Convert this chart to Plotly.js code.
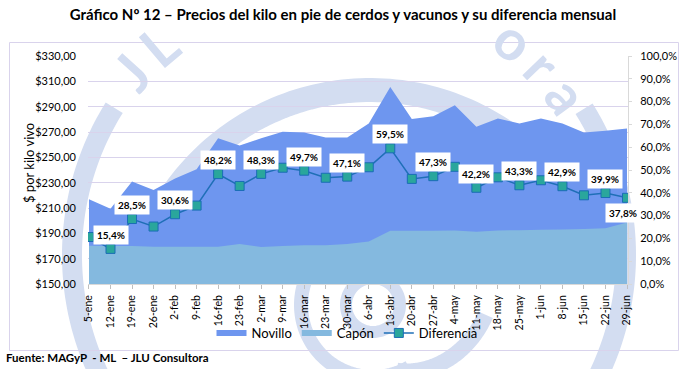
<!DOCTYPE html>
<html><head><meta charset="utf-8">
<script src="https://cdn.plot.ly/plotly-3.0.1.min.js"></script>
<style>html,body{margin:0;padding:0;background:#fff;}#chart{width:690px;height:369px;}</style>
</head><body><div id="chart"></div>
<script>
const weeks = ['5-ene','12-ene','19-ene','26-ene','2-feb','9-feb','16-feb','23-feb','2-mar','9-mar','16-mar','23-mar','30-mar','6-abr','13-abr','20-abr','27-abr','4-may','11-may','18-may','25-may','1-jun','8-jun','15-jun','22-jun','29-jun'];
const novillo = [217,209.5,231,224.3,233.2,240.5,265,259.4,265,270.2,269.7,265.7,265.7,276.8,305.6,280.2,282.5,291.2,274.1,280.7,276.8,280.7,276.8,269.7,271,272.8];
const capon = [180.2,180,180,179.5,179.5,179.5,179.5,181.5,179.3,180,180.5,180.5,181.5,183.5,192,192,192,192.3,191.3,192.3,192.5,192.8,193,193.5,194,198.5];
const diferencia = [0.206,0.154,0.285,0.252,0.306,0.344,0.482,0.430,0.483,0.510,0.497,0.466,0.471,0.512,0.595,0.461,0.473,0.514,0.422,0.468,0.433,0.455,0.429,0.389,0.399,0.378];
const labeledIdx = [1,2,4,6,8,10,12,14,16,18,20,22,24,25];
const watermarkText = 'JLU Consultora';

const FONT = 'Lato, "Open Sans", "Noto Sans", sans-serif';
// plot area in pixels
const PL = 88, PR = 628, PT = 56, PB = 284;
const px = x => (x - PL) / (PR - PL);
const py = y => (PB - y) / (PB - PT);
const WM = '#d3ddf1';

function arcPath(cx, cy, r0, a0, a1, r1) {
  if (r1 === undefined) r1 = r0;
  let s = '';
  const n = 80;
  for (let k = 0; k <= n; k++) {
    const t = k / n;
    const a = (a0 + (a1 - a0) * t) * Math.PI / 180;
    const r = r0 + (r1 - r0) * t;
    const x = cx + r * Math.sin(a), y = cy - r * Math.cos(a);
    s += (k ? 'L' : 'M') + px(x).toFixed(5) + ',' + py(y).toFixed(5);
  }
  return s;
}
function wmShape(path, w) {
  return {type: 'path', xref: 'paper', yref: 'paper', path: path, layer: 'below',
          line: {color: WM, width: w}, fillcolor: 'rgba(0,0,0,0)'};
}
const shapes = [
  wmShape(arcPath(350, 255, 278, -130, -58), 20),
  wmShape(arcPath(350, 255, 276, 58, 125), 20),
  wmShape(arcPath(370, 330, 240, -60, 50), 24),
  wmShape(arcPath(373, 305, 27, 0, 360), 12),
  wmShape(arcPath(373, 305, 72, 150, 330), 14),
  wmShape(arcPath(373, 305, 113, 95, 160, 70), 16),
  {type: 'rect', xref: 'paper', yref: 'paper', x0: px(9.5), x1: px(678.5), y0: py(42.5), y1: py(350.5),
   line: {color: '#d9d3ec', width: 1}, fillcolor: 'rgba(0,0,0,0)', layer: 'below'}
];
// watermark letters around the logo circle (only those fully inside the picture)
const chars = watermarkText.split('');
chars.forEach((c, k) => {
  if (c === ' ') return;
  const ang = -48 + k * 7.85;
  const a = ang * Math.PI / 180;
  const x = 340 + 282 * Math.sin(a), y = 260 - 282 * Math.cos(a);
  if (y < 25) return;
  shapes.push({type: 'rect', xref: 'paper', yref: 'paper', layer: 'below',
    x0: px(x - 0.5), x1: px(x + 0.5), y0: py(y + 0.5), y1: py(y - 0.5),
    line: {width: 0, color: 'rgba(0,0,0,0)'}, fillcolor: 'rgba(0,0,0,0)',
    label: {text: c, textangle: ang, textposition: 'middle center', padding: 0,
      font: {family: FONT, size: 56, weight: 700, color: WM}}});
});

const annotations = [];
const fmtPct = v => (v * 100).toFixed(1).replace('.', ',') + '%';
labeledIdx.forEach(i => {
  const last = i === weeks.length - 1;
  annotations.push({xref: 'x', yref: 'y2', x: weeks[i], y: diferencia[i], text: fmtPct(diferencia[i]),
    showarrow: false, bgcolor: '#ffffff', borderpad: 3, xanchor: 'center', yanchor: 'middle',
    yshift: last ? -15 : 14, xshift: last ? -4 : 0,
    font: {family: FONT, size: 10, weight: 700, color: '#000'}});
});
annotations.push({xref: 'paper', yref: 'paper', x: px(29), y: py(163), text: '$ por kilo vivo',
  textangle: -90, showarrow: false, xanchor: 'center', yanchor: 'middle',
  font: {family: FONT, size: 13, color: '#000'}});
annotations.push({xref: 'paper', yref: 'paper', x: px(4), y: py(357), text: 'Fuente: MAGyP\u00a0\u00a0- ML\u00a0\u00a0– JLU Consultora',
  showarrow: false, xanchor: 'left', yanchor: 'middle',
  font: {family: FONT, size: 11.5, weight: 700, color: '#000'}});

const traces = [
  {x: weeks, y: novillo, name: 'Novillo', type: 'scatter', mode: 'none', fill: 'tozeroy',
   fillcolor: '#6e96ef', hoverinfo: 'skip'},
  {x: weeks, y: capon, name: 'Capón', type: 'scatter', mode: 'none', fill: 'tozeroy',
   fillcolor: '#84b9df', hoverinfo: 'skip'},
  {x: weeks, y: diferencia, name: 'Diferencia', type: 'scatter', mode: 'lines+markers', yaxis: 'y2',
   line: {color: '#1f6fb7', width: 1.5},
   marker: {symbol: 'square', size: 9, color: '#2aa69c', line: {color: '#1a6db5', width: 1}}}
];

const layout = {
  width: 690, height: 369,
  margin: {l: PL, r: 690 - PR, t: PT, b: 369 - PB},
  paper_bgcolor: '#ffffff', plot_bgcolor: 'rgba(0,0,0,0)',
  separators: ',.',
  font: {family: FONT, color: '#000'},
  title: {text: 'Gráfico Nº 12 – Precios del kilo en pie de cerdos y vacunos y su diferencia mensual',
    x: 0.497, xanchor: 'center', y: 1 - 15 / 369, yanchor: 'middle',
    font: {family: FONT, size: 15, weight: 700, color: '#000'}},
  xaxis: {type: 'category', range: [-0.046, 25.046], tickangle: -90, tickfont: {size: 10.5},
    ticks: 'outside', ticklen: 4, tickcolor: '#bfbfbf', showline: true, linecolor: '#d9d9d9',
    showgrid: false, zeroline: false, ticklabelstandoff: 2},
  yaxis: {range: [150, 330], tick0: 150, dtick: 20, tickprefix: '$', tickformat: ',.2f',
    gridcolor: '#d9d3ec', gridwidth: 1, zeroline: false, showline: false, tickfont: {size: 11},
    ticks: '', ticklabelstandoff: 11},
  yaxis2: {overlaying: 'y', side: 'right', range: [0, 1], tick0: 0, dtick: 0.1, tickformat: '.1%',
    showgrid: false, zeroline: false, showline: true, linecolor: '#d9d9d9', ticks: 'outside',
    ticklen: 3, tickcolor: '#d9d9d9', tickfont: {size: 11}, ticklabelstandoff: 6},
  legend: {orientation: 'h', x: px(347), xanchor: 'center', y: py(333), yanchor: 'middle',
    font: {size: 13}, bgcolor: 'rgba(0,0,0,0)', itemwidth: 30, traceorder: 'normal'},
  showlegend: true,
  hovermode: false,
  shapes: shapes,
  annotations: annotations
};

Plotly.newPlot('chart', traces, layout, {displayModeBar: false, staticPlot: true});
</script>
</body></html>
